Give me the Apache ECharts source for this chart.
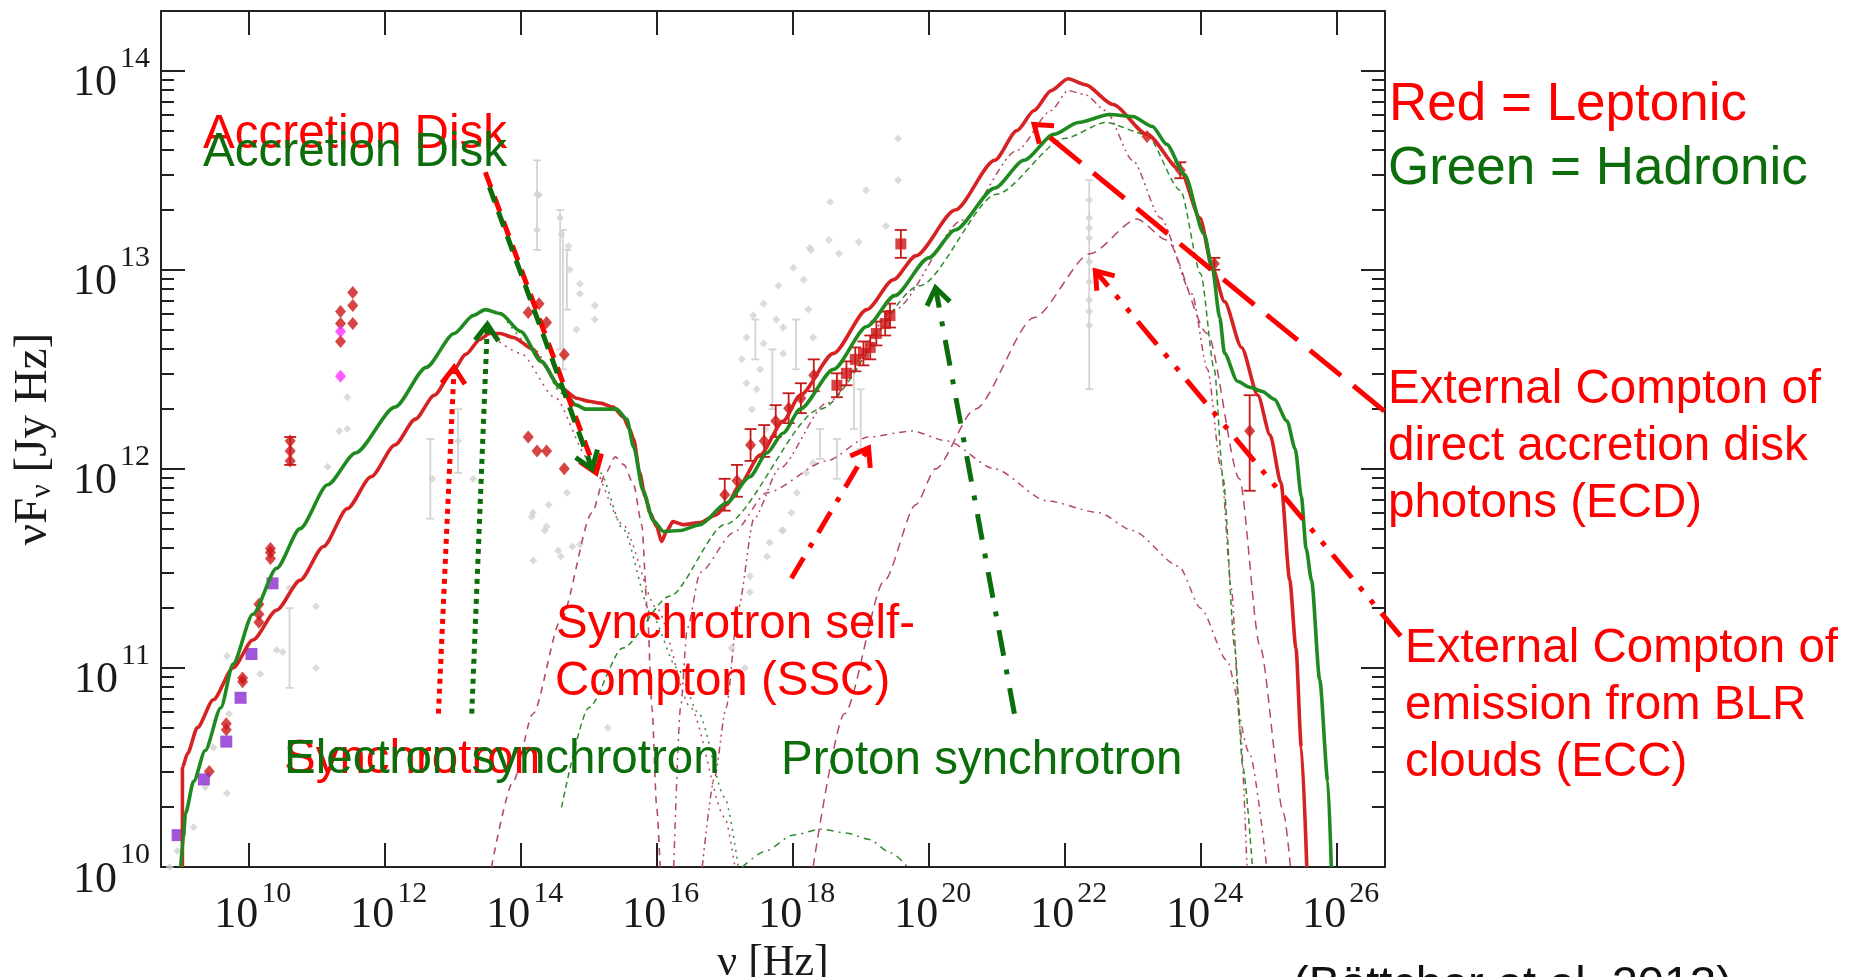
<!DOCTYPE html>
<html><head><meta charset="utf-8">
<script src="https://cdn.jsdelivr.net/npm/echarts@6/dist/echarts.min.js"></script>
<style>html,body{margin:0;padding:0;background:#fff}#c{width:1849px;height:977px}</style>
</head><body><div id="c"></div>
<script>
// ---- axis ticks (log10 exponents) ----
const xTicks = [10, 12, 14, 16, 18, 20, 22, 24, 26];
const yTicks = [10, 11, 12, 13, 14];
const yMinor = [];
for (let n = 10; n <= 13; n++) for (let k = 2; k <= 9; k++) yMinor.push(n + Math.log10(k));

// ---- model curves: [log10 nu, log10 nuFnu] ----
const leptonicTotal = [[9.025,10.0],[9.025,10.50],[9.10,10.57],[9.245,10.70],[9.48,10.84],[9.77,11.0],[10.06,11.14],[10.41,11.29],[10.755,11.44],[11.10,11.61],[11.45,11.80],[11.8,11.96],[12.15,12.12],[12.45,12.25],[12.73,12.37],[13.0,12.49],[13.19,12.575],[13.4,12.65],[13.54,12.68],[13.7,12.68],[13.89,12.66],[14.185,12.60],[14.30,12.54],[14.58,12.41],[14.82,12.355],[15.0,12.34],[15.17,12.33],[15.36,12.31],[15.51,12.26],[15.6,12.2],[15.66,12.15],[15.75,11.98],[15.83,11.86],[15.90,11.78],[16.0,11.71],[16.07,11.635],[16.15,11.69],[16.24,11.735],[16.39,11.72],[16.64,11.73],[16.88,11.77],[17.03,11.82],[17.22,11.92],[17.52,12.07],[17.86,12.24],[18.11,12.37],[18.60,12.58],[19.09,12.80],[19.48,12.95],[19.81,13.07],[20.39,13.30],[20.97,13.55],[21.3,13.7],[21.55,13.8],[21.8,13.9],[22.05,13.96],[22.3,13.93],[22.71,13.83],[23.21,13.68],[23.70,13.50],[23.99,13.26],[24.17,13.01],[24.35,12.84],[24.60,12.61],[24.84,12.37],[25.02,12.17],[25.18,11.93],[25.31,11.44],[25.40,11.1],[25.48,10.6],[25.56,10.0]];
const hadronicTotal = [[9.0,10.0],[9.04,10.15],[9.07,10.27],[9.19,10.43],[9.36,10.585],[9.59,10.80],[9.77,11.02],[10.06,11.27],[10.41,11.50],[10.755,11.70],[11.16,11.92],[11.57,12.08],[12.15,12.31],[12.61,12.51],[13.02,12.68],[13.3,12.77],[13.48,12.80],[13.7,12.78],[14.0,12.69],[14.30,12.54],[14.58,12.41],[14.82,12.32],[14.95,12.30],[15.17,12.30],[15.41,12.30],[15.56,12.25],[15.66,12.11],[15.80,11.89],[15.95,11.74],[16.10,11.685],[16.34,11.69],[16.64,11.72],[17.03,11.83],[17.37,11.96],[17.62,12.08],[17.86,12.18],[18.11,12.30],[18.60,12.50],[19.09,12.715],[19.5,12.87],[20.0,13.06],[20.39,13.20],[20.97,13.41],[21.4,13.55],[21.84,13.68],[22.2,13.74],[22.66,13.78],[23.0,13.77],[23.29,13.72],[23.5,13.63],[23.76,13.48],[24.05,13.18],[24.17,13.01],[24.28,12.76],[24.35,12.58],[24.54,12.44],[24.72,12.41],[24.90,12.39],[25.08,12.35],[25.27,12.24],[25.39,12.10],[25.48,11.86],[25.55,11.6],[25.63,11.44],[25.75,10.94],[25.87,10.43],[25.92,10.0]];
const lepSynchrotron = [[13.6,12.66],[14.0,12.58],[14.5,12.36],[15.0,12.05],[15.5,11.72],[16.0,11.3],[16.5,10.8],[17.0,10.25],[17.15,10.0]];
const hadSynchrotron = [[13.8,12.74],[14.2,12.6],[14.6,12.38],[15.17,11.98],[15.5,11.7],[15.92,11.27],[16.3,11.0],[16.62,10.77],[17.0,10.35],[17.2,10.0]];
const accretionDisk = [[13.57,10.0],[13.89,10.43],[14.18,10.77],[14.59,11.24],[15.05,11.78],[15.25,11.98],[15.39,12.06],[15.52,12.02],[15.66,11.92],[15.78,11.72],[15.86,11.3],[15.93,10.8],[16.0,10.3],[16.05,10.0]];
const sscComp = [[16.25,10.0],[16.35,10.8],[16.45,11.2],[16.64,11.48],[17.13,11.68],[17.62,11.88],[18.5,12.04],[19.11,12.16],[19.75,12.19],[20.27,12.14],[20.97,12.0],[21.73,11.84],[22.5,11.78],[23.0,11.69],[23.68,11.51],[24.0,11.3],[24.38,11.04],[24.72,10.57],[24.97,10.0]];
const ecdComp = [[16.67,10.0],[16.85,10.45],[17.02,10.8],[17.2,11.3],[17.43,11.75],[17.8,12.0],[18.5,12.33],[19.5,12.8],[20.5,13.25],[21.3,13.6],[21.8,13.8],[22.05,13.9],[22.3,13.88],[22.6,13.8],[23.0,13.55],[23.41,13.26],[23.87,12.88],[24.1,12.5],[24.3,12.0],[24.45,11.4],[24.58,10.7],[24.68,10.0]];
const eccComp = [[18.30,10.0],[18.76,10.77],[19.35,11.44],[19.81,11.82],[20.10,12.0],[20.68,12.3],[21.55,12.76],[22.37,13.08],[23.06,13.255],[23.5,13.15],[24.1,12.68],[24.57,11.95],[24.87,11.11],[25.22,10.27],[25.32,10.0]];
const protonSynchrotron = [[14.6,10.3],[15.0,10.8],[15.5,11.1],[16.19,11.36],[17.0,11.72],[18.40,12.30],[19.87,12.92],[21.0,13.38],[22.0,13.66],[22.6,13.74],[23.2,13.68],[23.7,13.4],[24.0,12.98],[24.2,12.5],[24.33,11.95],[24.5,11.1],[24.62,10.5],[24.76,10.0]];
const hadronicHump = [[17.26,10.0],[17.60,10.08],[18.0,10.16],[18.42,10.19],[18.8,10.17],[19.11,10.14],[19.45,10.07],[19.69,10.0]];

// ---- observational data ----
const grayPoints = [[8.84,10.0],[8.95,10.08],[9.19,10.2],[9.36,10.4],[9.48,10.6],[9.68,10.37],[9.71,10.77],[9.68,11.06],[9.85,11.05],[10.17,10.97],[10.41,11.09],[10.5,11.08],[10.99,11.31],[10.99,11.0],[10.6,11.4],[11.16,12.01],[11.33,12.19],[11.45,12.36],[11.45,12.2],[12.70,11.95],[13.08,12.14],[13.3,11.95],[14.24,13.38],[14.24,13.2],[14.27,13.376],[14.58,13.26],[14.60,13.18],[14.70,13.12],[14.72,13.0],[14.87,12.93],[14.87,12.88],[15.09,12.82],[15.09,12.75],[14.82,12.70],[14.41,11.82],[14.16,11.76],[14.38,11.71],[14.185,11.54],[14.55,11.59],[14.68,11.88],[14.87,11.62],[14.35,11.69],[14.76,11.61],[15.28,10.70],[14.59,11.56],[14.18,11.78],[17.32,12.66],[17.42,12.77],[17.57,12.83],[17.79,12.92],[18.01,13.01],[18.25,13.11],[17.76,12.75],[17.86,12.71],[17.57,12.63],[17.86,12.58],[17.52,12.50],[17.32,12.43],[17.47,12.40],[18.16,12.95],[18.23,12.80],[18.30,12.66],[18.27,13.10],[18.53,13.15],[18.55,13.34],[18.68,13.08],[18.97,13.14],[19.08,13.40],[19.37,13.22],[19.55,13.45],[19.55,13.66],[17.25,12.55],[17.4,12.3],[17.6,12.2],[18.30,12.03],[18.20,11.98],[18.06,11.88],[17.98,11.78],[17.86,11.69],[17.66,11.63],[17.62,11.56],[17.37,11.46],[17.37,11.38],[17.84,11.69],[17.1,11.1],[17.3,11.0],[22.36,13.35],[22.36,13.26],[22.36,13.21],[22.36,13.16],[22.36,13.04],[22.36,12.94],[22.36,12.85],[22.36,12.79],[22.36,12.72]];
const grayErrors = [[12.67,11.75,12.15],[13.08,11.98,12.3],[14.24,13.1,13.55],[14.58,12.6,13.3],[14.62,12.5,13.2],[14.68,12.8,13.1],[22.36,12.4,13.45],[18.65,11.95,12.15],[18.4,12.05,12.2],[18.9,12.2,12.5],[19.0,12.1,12.4],[10.6,10.9,11.3],[17.7,12.3,12.6],[18.05,12.5,12.75],[17.45,12.55,12.75]];
const redDiamonds = [[9.42,10.48],[9.67,10.69],[9.67,10.72],[9.91,10.95],[9.91,10.93],[10.15,11.32],[10.15,11.27],[10.15,11.23],[10.32,11.60],[10.32,11.58],[10.32,11.55],[10.61,12.14],[10.61,12.09],[10.61,12.04],[11.35,12.79],[11.35,12.73],[11.35,12.64],[11.53,12.886],[11.53,12.82],[11.53,12.73],[14.11,12.785],[14.27,12.83],[14.38,12.735],[14.64,12.575],[14.11,12.16],[14.24,12.09],[14.38,12.09],[14.64,12.0],[17.0,11.87],[17.18,11.94],[17.38,12.12],[17.58,12.14],[17.75,12.24],[17.94,12.305],[18.12,12.355],[18.31,12.47],[23.21,13.67],[23.70,13.50],[24.20,13.03],[24.72,12.19]];
const redSquares = [[18.65,12.42],[18.79,12.48],[18.92,12.55],[19.04,12.58],[19.14,12.61],[19.23,12.68],[19.36,12.73],[19.43,12.77],[19.59,13.13]];
const redErrors = [[10.61,12.02,12.16],[17.0,11.79,11.95],[17.18,11.86,12.02],[17.38,12.04,12.2],[17.58,12.06,12.22],[17.75,12.16,12.32],[17.94,12.23,12.38],[18.12,12.28,12.43],[18.31,12.39,12.55],[18.65,12.36,12.48],[18.79,12.42,12.54],[18.92,12.49,12.61],[19.04,12.52,12.64],[19.14,12.55,12.67],[19.23,12.62,12.74],[19.36,12.67,12.79],[19.43,12.71,12.83],[19.59,13.06,13.2],[23.70,13.46,13.54],[24.20,13.0,13.06],[24.72,11.89,12.37]];
const purpleSquares = [[8.955,10.16],[9.34,10.44],[9.67,10.63],[9.88,10.85],[10.04,11.07],[10.35,11.425]];
const magentaDiamonds = [[11.35,12.69],[11.35,12.465]];

// ---- annotations ----
const RED = '#ff0000', GREEN = '#0b6e0b';
const arrows = [
  {from:[13.48,13.49], to:[15.11,11.98], color:RED, dash:[16,10], width:5},
  {from:[13.54,13.415], to:[15.05,12.0], color:GREEN, dash:[16,10], width:5},
  {from:[12.79,10.77], to:[13.02,12.51], color:RED, dash:[5,5], width:5},
  {from:[13.28,10.77], to:[13.51,12.726], color:GREEN, dash:[5,5], width:5},
  {from:[17.98,11.45], to:[19.115,12.105], color:RED, dash:[24,12,5,12], width:5},
  {from:[21.26,10.77], to:[20.10,12.91], color:GREEN, dash:[26,14,5,14], width:5},
  {from:[26.70,12.29], to:[21.55,13.73], color:RED, dash:[40,16], width:5},
  {from:[26.94,11.16], to:[22.45,12.995], color:RED, dash:[30,12,5,12,5,12], width:5}
];
const texts = [
  {t:'Accretion Disk', x:203, y:111, c:RED, s:47.6},
  {t:'Accretion Disk', x:203, y:129, c:GREEN, s:47.6},
  {t:'Red = Leptonic', x:1389, y:79, c:RED, s:53},
  {t:'Green = Hadronic', x:1388, y:143, c:GREEN, s:53},
  {t:'External Compton of', x:1388, y:366, c:RED, s:47.5},
  {t:'direct accretion disk', x:1388, y:423, c:RED, s:47.5},
  {t:'photons (ECD)', x:1388, y:480, c:RED, s:47.5},
  {t:'External Compton of', x:1405, y:625, c:RED, s:47.5},
  {t:'emission from BLR', x:1405, y:682, c:RED, s:47.5},
  {t:'clouds (ECC)', x:1405, y:739, c:RED, s:47.5},
  {t:'Synchrotron self-', x:556, y:601, c:RED, s:47.5},
  {t:'Compton (SSC)', x:555, y:658, c:RED, s:47.5},
  {t:'Synchrotron', x:284, y:736, c:RED, s:47.5},
  {t:'Electron synchrotron', x:284, y:736, c:GREEN, s:47.5},
  {t:'Proton synchrotron', x:781, y:737, c:GREEN, s:47.5},
  {t:'(Böttcher et al. 2013)', x:1293, y:963, c:'#111', s:47}
];

// ---- chart ----
const AX = '#222';
const SERIF = '"Liberation Serif","Times New Roman",serif';
const richX = {
  b: {fontSize: 44, fontFamily: SERIF, color: '#1a1a1a', lineHeight: 71},
  s: {fontSize: 30, fontFamily: SERIF, color: '#1a1a1a', lineHeight: 30, verticalAlign: 'top', padding: [0,0,0,3]}
};
const richY = {
  b: {fontSize: 44, fontFamily: SERIF, color: '#1a1a1a', lineHeight: 80},
  s: {fontSize: 30, fontFamily: SERIF, color: '#1a1a1a', lineHeight: 30, verticalAlign: 'top', padding: [0,0,0,3]}
};
const tickFmt = v => '{b|10}{s|' + Math.round(v) + '}';

function lineSeries(name, data, color, width, dash, z) {
  return {name, type: 'line', data, showSymbol: false, symbol: 'none', smooth: 0.25, smoothMonotone: 'x',
    lineStyle: {color, width, type: dash}, z: z || 2, silent: true, xAxisIndex: 0, yAxisIndex: 0};
}
function errorSeries(data, color, cap, z) {
  return {type: 'custom', data, encode: {x: 0, y: [1, 2]}, z: z || 3, silent: true,
    renderItem: (p, api) => {
      const x = api.value(0), a = api.coord([x, api.value(1)]), b = api.coord([x, api.value(2)]);
      const st = {stroke: color, lineWidth: 1.8};
      return {type: 'group', children: [
        {type: 'line', shape: {x1: a[0], y1: a[1], x2: b[0], y2: b[1]}, style: st},
        {type: 'line', shape: {x1: a[0]-cap, y1: a[1], x2: a[0]+cap, y2: a[1]}, style: st},
        {type: 'line', shape: {x1: b[0]-cap, y1: b[1], x2: b[0]+cap, y2: b[1]}, style: st}
      ]};
    }};
}
const MAROON = '#b34a66', THINGREEN = '#2f8a2f';

const option = {
  animation: false,
  backgroundColor: '#fff',
  grid: {left: 161, top: 11, width: 1224, height: 856, containLabel: false, outerBoundsMode: 'none'},
  xAxis: [
    {type: 'value', min: 8.71, max: 26.71, position: 'bottom',
      axisLine: {lineStyle: {color: AX, width: 2}},
      axisTick: {inside: true, length: 24, lineStyle: {color: AX, width: 2}, customValues: xTicks},
      axisLabel: {customValues: xTicks, formatter: tickFmt, rich: richX, margin: 12.5, padding: [0,0,0,8]},
      splitLine: {show: false},
      name: 'ν [Hz]', nameLocation: 'middle', nameGap: 74,
      nameTextStyle: {fontFamily: SERIF, fontSize: 44, color: '#1a1a1a', lineHeight: 44}},
    {type: 'value', min: 8.71, max: 26.71, position: 'top',
      axisLine: {lineStyle: {color: AX, width: 2}},
      axisTick: {inside: true, length: 24, lineStyle: {color: AX, width: 2}, customValues: xTicks},
      axisLabel: {show: false}, splitLine: {show: false}}
  ],
  yAxis: [
    {type: 'value', min: 10, max: 14.30, position: 'left',
      axisLine: {show: true, lineStyle: {color: AX, width: 2}},
      axisTick: {inside: true, length: 24, lineStyle: {color: AX, width: 2}, customValues: yTicks},
      axisLabel: {customValues: yTicks, formatter: tickFmt, rich: richY, margin: 11, padding: [26,0,0,0]},
      splitLine: {show: false},
      name: '{a|νF}{sub|ν}{a| [Jy Hz]}', nameLocation: 'middle', nameGap: 104, nameRotate: 90,
      nameTextStyle: {fontFamily: SERIF, fontSize: 47, lineHeight: 47, rich: {
        a: {fontFamily: SERIF, fontSize: 47, color: '#1a1a1a', lineHeight: 47},
        sub: {fontFamily: SERIF, fontSize: 30, color: '#1a1a1a', lineHeight: 47, verticalAlign: 'bottom', padding: [20,0,0,0]}}}},
    {type: 'value', min: 10, max: 14.30, position: 'left',
      axisLine: {show: false},
      axisTick: {inside: true, length: 13, lineStyle: {color: AX, width: 2}, customValues: yMinor},
      axisLabel: {show: false}, splitLine: {show: false}},
    {type: 'value', min: 10, max: 14.30, position: 'right',
      axisLine: {show: true, lineStyle: {color: AX, width: 2}},
      axisTick: {inside: true, length: 24, lineStyle: {color: AX, width: 2}, customValues: yTicks},
      axisLabel: {show: false}, splitLine: {show: false}},
    {type: 'value', min: 10, max: 14.30, position: 'right',
      axisLine: {show: false},
      axisTick: {inside: true, length: 13, lineStyle: {color: AX, width: 2}, customValues: yMinor},
      axisLabel: {show: false}, splitLine: {show: false}}
  ],
  series: [
    {type: 'scatter', data: grayPoints, symbol: 'diamond', symbolSize: 8, itemStyle: {color: '#d2d2d2'}, z: 1, silent: true},
    errorSeries(grayErrors, '#d4d4d4', 4, 1),
    lineSeries('lepSync', lepSynchrotron, MAROON, 1.5, [2, 5]),
    lineSeries('hadSync', hadSynchrotron, THINGREEN, 1.5, [2, 5]),
    lineSeries('AD', accretionDisk, MAROON, 1.6, [7, 6]),
    lineSeries('SSC', sscComp, MAROON, 1.5, [7, 5, 2, 5]),
    lineSeries('ECD', ecdComp, MAROON, 1.5, [7, 4, 2, 4, 2, 4]),
    lineSeries('ECC', eccComp, MAROON, 1.5, [9, 6]),
    lineSeries('pSync', protonSynchrotron, THINGREEN, 1.5, [6, 4]),
    lineSeries('hump', hadronicHump, THINGREEN, 1.5, [7, 5, 2, 5]),
    errorSeries(redErrors, '#c41a1a', 6, 4),
    {type: 'scatter', data: redDiamonds, symbol: 'diamond', symbolSize: [11, 13], itemStyle: {color: '#cc1515'}, z: 4, silent: true},
    {type: 'scatter', data: redSquares, symbol: 'rect', symbolSize: 11, itemStyle: {color: '#cc1515'}, z: 4, silent: true},
    {type: 'scatter', data: purpleSquares, symbol: 'rect', symbolSize: 12, itemStyle: {color: '#8a2bd0'}, z: 4, silent: true},
    {type: 'scatter', data: magentaDiamonds, symbol: 'diamond', symbolSize: [11, 13], itemStyle: {color: '#ff30ff'}, z: 4, silent: true},
    lineSeries('Leptonic', leptonicTotal, '#d62222', 3.6, 'solid', 5),
    lineSeries('Hadronic', hadronicTotal, '#1f8a1f', 3.6, 'solid', 6),
    {type: 'custom', data: arrows.map(a => a.to), encode: {x: 0, y: 1}, z: 10, silent: true, clip: false,
      renderItem: (p, api) => {
        const a = arrows[p.dataIndex];
        const p0 = api.coord(a.from), p1 = api.coord(a.to);
        const dx = p1[0]-p0[0], dy = p1[1]-p0[1], L = Math.hypot(dx, dy), ux = dx/L, uy = dy/L;
        const h = 20, ang = 0.62;
        const arm = s => [p1[0] - h*(ux*Math.cos(ang) - s*uy*Math.sin(ang)), p1[1] - h*(uy*Math.cos(ang) + s*ux*Math.sin(ang))];
        return {type: 'group', children: [
          {type: 'line', shape: {x1: p0[0], y1: p0[1], x2: p1[0], y2: p1[1]}, style: {stroke: a.color, lineWidth: a.width, lineDash: a.dash, lineCap: 'butt'}},
          {type: 'polyline', shape: {points: [arm(1), p1, arm(-1)]}, style: {stroke: a.color, lineWidth: a.width, fill: null}}
        ]};
      }}
  ],
  graphic: texts.map(o => ({type: 'text', x: o.x, y: o.y, z: 20, silent: true,
    style: {text: o.t, fill: o.c, font: o.s + 'px "Liberation Sans", Arial, sans-serif', verticalAlign: 'top', textVerticalAlign: 'top', align: 'left'}}))
};
const chart = echarts.init(document.getElementById('c'), null, {renderer: 'canvas'});
chart.setOption(option);
</script></body></html>
